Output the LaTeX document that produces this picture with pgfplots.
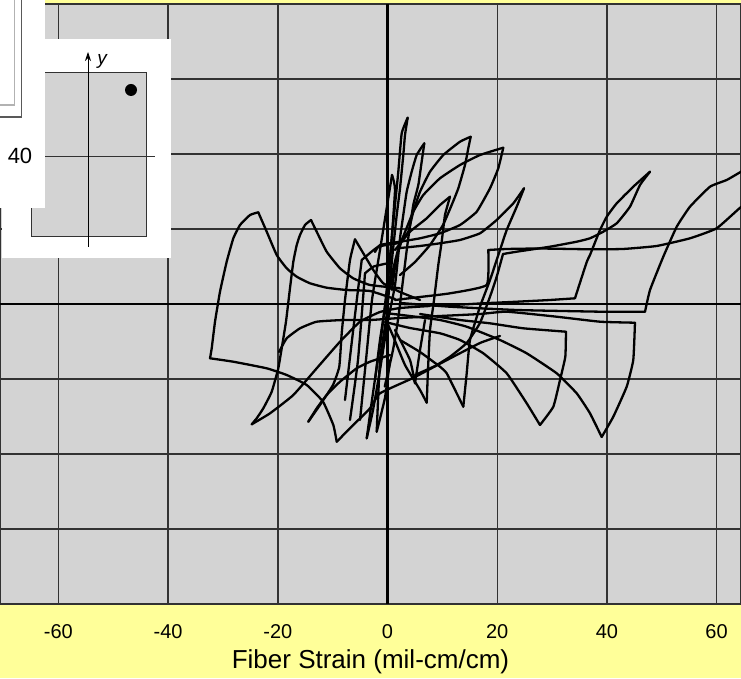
\documentclass[border=0pt]{standalone}
\usepackage{pgfplots}
\pgfplotsset{compat=1.18}
\usepackage{fontspec}
\setmainfont{Liberation Sans}
\usetikzlibrary{arrows.meta}
\definecolor{bggray}{RGB}{211,211,211}
\definecolor{ylw}{RGB}{255,255,153}
\definecolor{gridc}{RGB}{50,50,50}
\pgfplotsset{crv/.style={black, solid, line width=2.3pt, line join=round, line cap=round, mark=none, smooth, tension=0.25}}
\begin{document}
\begin{tikzpicture}
\fill[ylw] (0pt,-74pt) rectangle (741pt,604pt);
\begin{axis}[
  scale only axis, width=741pt, height=600pt,
  at={(0pt,0pt)}, anchor=south west,
  xmin=-70.65, xmax=64.45, ymin=-80, ymax=80,
  xtick={-60,-40,-20,0,20,40,60},
  xticklabels={-60,-40,-20,0,20,40,60},
  ytick={-80,-60,-40,-20,0,20,40,60,80},
  yticklabels={},
  grid=major,
  major grid style={line width=1.4pt, color=gridc},
  major tick length=0pt,
  axis background/.style={fill=bggray},
  axis line style={line width=1.4pt, color=gridc},
  xticklabel style={font=\fontsize{20}{20}\selectfont, anchor=center, yshift=-28pt},
  xlabel={Fiber Strain (mil-cm/cm)},
  xlabel style={font=\fontsize{26}{26}\selectfont, at={(axis description cs:0.5,0)}, anchor=center, yshift=-58pt},
]
\addplot[black, line width=2.4pt, mark=none] coordinates {(0,-80) (0,80)};
\addplot[black, line width=2.4pt, mark=none] coordinates {(-70.65,0) (64.45,0)};
% loop 1
\addplot[crv] coordinates {(1.37,1.33) (-3.19,3.47) (-7.44,3.73) (-11.09,4.35) (-14.13,5.52) (-16.55,7.28) (-18.38,9.52) (-20.20,13.07) (-22.02,19.28) (-23.56,24.45)};
\addplot[crv] coordinates {(-23.56,24.45) (-25.07,23.73) (-26.89,21.07) (-28.11,17.52) (-29.32,11.28) (-30.54,3.28) (-31.45,-4.72) (-32.05,-11.81) (-32.36,-14.48)};
\addplot[crv] coordinates {(-32.36,-14.48) (-28.11,-15.39) (-22.02,-17.15) (-18.38,-18.93) (-14.73,-21.60) (-11.76,-26.05) (-9.88,-32.27) (-9.26,-36.72)};
\addplot[crv] coordinates {(-9.26,-36.72) (-6.24,-32.27) (-3.19,-27.81) (-1.37,-23.81) (4.65,-19.73) (10.85,-14.93) (16.86,-10.40) (20.51,-8.53)};
% loop 2
\addplot[crv] coordinates {(2.28,4.20) (-3.19,5.07) (-6.24,6.85) (-8.66,9.52) (-11.09,13.95) (-12.91,19.28) (-13.95,22.40)};
\addplot[crv] coordinates {(-13.95,22.40) (-15.04,21.07) (-15.95,18.40) (-16.55,15.73) (-17.17,11.28) (-17.78,4.19) (-18.51,-4.72) (-19.29,-11.81) (-19.91,-17.15) (-21.11,-23.39) (-22.64,-27.81) (-23.85,-30.48) (-24.76,-32.08)};
\addplot[crv] coordinates {(-24.76,-32.08) (-21.42,-29.15) (-17.17,-24.27) (-12.91,-17.15) (-8.66,-10.05) (-5.01,-4.72) (-1.37,-2.13) (2.28,-1.07) (7.75,-0.53)};
% loop D
\addplot[crv] coordinates {(-19.78,-12.80) (-18.38,-9.15) (-15.95,-6.48) (-12.91,-4.72) (-8.06,-4.27) (-3.19,-4.27) (2.28,-3.73) (9.57,-3.20) (16.86,-2.67) (21.73,-2.05) (30.85,-3.39) (38.74,-4.72) (45.12,-4.99)};
\addplot[crv] coordinates {(45.12,-4.99) (44.81,-14.93) (43.61,-22.05) (41.17,-30.05) (39.05,-35.47)};
\addplot[crv] coordinates {(39.05,-35.47) (36.92,-29.15) (34.49,-23.81) (30.85,-18.48) (25.38,-13.15) (20.51,-9.60) (14.44,-6.05) (9.57,-4.27) (4.10,-3.20) (-0.46,-2.40)};
% loop C
\addplot[crv] coordinates {(5.93,-2.67) (13.22,-4.27) (18.69,-5.15) (24.76,-6.48) (32.54,-7.39)};
\addplot[crv] coordinates {(32.54,-7.39) (32.42,-14.05) (31.45,-20.27) (30.23,-27.39) (27.80,-32.27)};
\addplot[crv] coordinates {(27.80,-32.27) (25.38,-26.48) (21.73,-18.48) (17.47,-13.15) (13.22,-9.60) (9.57,-7.81) (4.10,-6.40) (-0.46,-4.80)};
% loop B
\addplot[crv] coordinates {(2.28,0.27) (11.40,-0.72) (23.56,-1.60) (38.74,-2.05) (46.95,-2.05)};
\addplot[crv] coordinates {(46.95,-2.05) (47.86,3.73) (50.28,12.61) (52.73,20.61) (55.15,25.95) (58.80,31.28) (61.84,33.07) (64.45,35.28) (67.91,38.40) (69.74,39.73)};
\addplot[crv] coordinates {(69.74,39.73) (67.91,29.07) (64.45,25.87) (60.02,20.19) (55.15,17.52) (49.08,15.47) (42.94,14.67) (36.92,14.59) (27.80,14.80) (21.73,14.67) (18.38,14.40)};
\addplot[crv] coordinates {(18.38,14.40) (18.09,5.07) (11.40,2.85) (5.93,1.87) (1.37,1.07)};
% loop A
\addplot[crv] coordinates {(2.28,0) (11.40,-0.27) (17.47,0.19) (23.56,0.61) (29.63,1.07) (34.18,1.52)};
\addplot[crv] coordinates {(34.18,1.52) (36.32,11.20) (36.92,13.07) (37.52,15.28) (38.74,19.73) (39.97,23.28) (41.79,26.85) (44.81,31.28) (47.86,35.28)};
\addplot[crv] coordinates {(47.86,35.28) (46.03,31.73) (44.21,25.95) (41.79,21.52) (39.34,19.28) (36.92,17.52) (34.49,16.61) (29.63,15.28) (23.56,13.95) (21.06,13.33)};
\addplot[crv] coordinates {(21.06,13.33) (19.91,7.28) (18.69,1.95) (16.86,-5.07) (14.44,-10.40) (11.40,-14.05) (8.66,-16.53) (5.01,-18.93)};
% spike loop (tip 25,31)
\addplot[crv] coordinates {(2.28,14.93) (5.93,15.47) (9.57,16.19) (13.22,17.07) (16.86,18.85) (19.91,22.40) (22.94,26.85) (24.89,30.85)};
\addplot[crv] coordinates {(24.89,30.85) (23.56,25.95) (21.73,19.73) (20.51,14.40) (18.69,6.40) (16.86,-0.72) (15.04,-9.60) (14.44,-18.48) (13.82,-27.39)};
\addplot[crv] coordinates {(13.82,-27.39) (12.62,-23.81) (10.79,-18.48) (9.57,-16.72) (5.93,-12.80) (2.28,-9.60)};
% loop tip (21,42)
\addplot[crv] coordinates {(0.46,4.0) (1.00,9.07) (1.91,14.40) (3.19,19.20) (4.70,24.61) (6.53,29.07) (9.57,33.52) (13.22,37.07) (16.86,39.73) (21.11,41.68)};
\addplot[crv] coordinates {(21.11,41.68) (20.20,36.19) (18.69,30.85) (16.26,24.61) (13.22,21.07) (9.57,18.85) (5.93,17.52) (2.28,16.61) (-1.37,15.73) (-2.28,13.87)};
% loop tip (15,45)
\addplot[crv] coordinates {(0.82,3.73) (1.55,11.73) (2.64,17.07) (3.79,19.28) (4.70,24.61) (5.93,29.95) (7.75,35.28) (10.17,39.73) (13.22,43.28) (15.17,44.61)};
\addplot[crv] coordinates {(15.17,44.61) (14.73,41.52) (14.13,37.07) (12.91,30.85) (11.70,26.40) (10.12,21.07) (7.75,15.73) (5.01,11.20) (2.28,7.73)};
% loop tip (11,29)
\addplot[crv] coordinates {(1.37,14.40) (4.10,19.28) (7.15,22.85) (9.57,26.40) (11.40,28.61)};
\addplot[crv] coordinates {(11.40,28.61) (10.48,23.73) (9.88,16.61) (9.26,10.40) (8.48,1.07) (7.75,-6.93) (7.38,-17.60) (7.15,-26.32)};
\addplot[crv] coordinates {(7.15,-26.32) (5.93,-22.93) (3.19,-16.27) (1.06,-8.72) (-0.27,-4.27)};
\addplot[crv] coordinates {(1.37,-6.93) (4.10,-14.93) (5.01,-21.15)};
\addplot[crv] coordinates {(5.01,-21.15) (5.93,-12.27) (6.84,-4.27)};
% tall spikes
\addplot[crv] coordinates {(-2.28,-20.27) (-1.37,-9.60) (-0.27,1.07) (0.77,17.52) (1.37,26.40) (1.97,35.28) (2.59,45.52) (3.68,49.68)};
\addplot[crv] coordinates {(3.68,49.68) (3.19,45.07) (2.88,39.73) (2.28,30.85) (1.68,23.73) (1.00,14.40) (0.46,6.40) (-0.27,-4.27) (-1.37,-14.93) (-1.97,-34.05)};
\addplot[crv] coordinates {(-1.97,-34.05) (-0.46,-25.0) (0.46,-15.0)};
\addplot[crv] coordinates {(-3.79,-35.81) (-2.64,-28.27) (-1.37,-17.60) (0.0,-5.0) (1.37,5.0) (2.28,17.52) (2.88,23.73) (3.50,29.95) (4.41,35.28) (5.32,39.73) (6.71,42.85)};
\addplot[crv] coordinates {(6.71,42.85) (6.24,38.05) (5.62,31.73) (4.70,26.40) (3.74,17.07) (2.83,6.40) (1.91,-4.27) (1.00,-12.27) (-0.5,-22.0)};
\addplot[crv] coordinates {(-5.01,-30.93) (-3.92,-14.93) (-2.83,1.07) (-1.37,14.40) (0.09,27.73) (0.82,34.40)};
\addplot[crv] coordinates {(0.82,34.40) (1.37,30.40) (0.46,11.73) (-1.00,-6.93) (-2.83,-25.60) (-3.79,-35.81)};
% loop tip (-6,17)
\addplot[crv] coordinates {(5.93,1.07) (2.28,3.20) (-0.77,5.52) (-2.59,9.07) (-4.41,13.52) (-5.93,17.25)};
\addplot[crv] coordinates {(-5.93,17.25) (-6.84,11.73) (-7.75,1.07) (-8.35,-7.81) (-8.79,-16.72) (-9.94,-21.60) (-12.31,-26.93) (-14.44,-31.39)};
\addplot[crv] coordinates {(-14.44,-31.39) (-12.91,-27.81) (-11.09,-24.27) (-8.66,-20.72) (-5.62,-17.15) (-3.19,-15.39) (0.46,-13.60)};
\addplot[crv] coordinates {(-7.75,-25.60) (-6.47,-9.60) (-5.38,3.73) (-4.70,11.73)};
\addplot[crv] coordinates {(-4.70,11.73) (-1.68,15.28) (2.28,16.27)};
\addplot[crv] coordinates {(-6.84,-30.93) (-5.38,-14.93) (-4.10,8.19)};
\addplot[crv] coordinates {(-4.10,8.19) (-2.5,10.0) (0.5,11.0)};
\end{axis}
% inset section
\fill[white] (2pt,346pt) rectangle (171pt,565pt);
\filldraw[fill=bggray, draw=gridc, line width=1pt] (31pt,367pt) rectangle (146pt,531pt);
\draw[gridc, line width=0.9pt] (25pt,448pt) -- (155pt,448pt);
\draw[black, line width=0.9pt, -{Stealth[length=9pt,width=6pt]}] (88pt,357pt) -- (88pt,552pt);
\node[font=\fontsize{19}{19}\selectfont\itshape] at (102pt,543pt) {y};
\fill[black] (131pt,514pt) circle (6pt);
% white panel
\fill[white] (0pt,396pt) rectangle (45pt,604pt);
\draw[black!30, line width=1.2pt] (0pt,499pt) -- (14.5pt,499pt) -- (14.5pt,604pt);
\draw[black!65, line width=1.5pt] (0pt,487pt) -- (21.5pt,487pt) -- (21.5pt,604pt);
\node[font=\fontsize{22}{22}\selectfont] at (20pt,448pt) {40};
\pgfresetboundingbox
\path (0pt,-74pt) rectangle (741pt,604pt);
\end{tikzpicture}
\end{document}
